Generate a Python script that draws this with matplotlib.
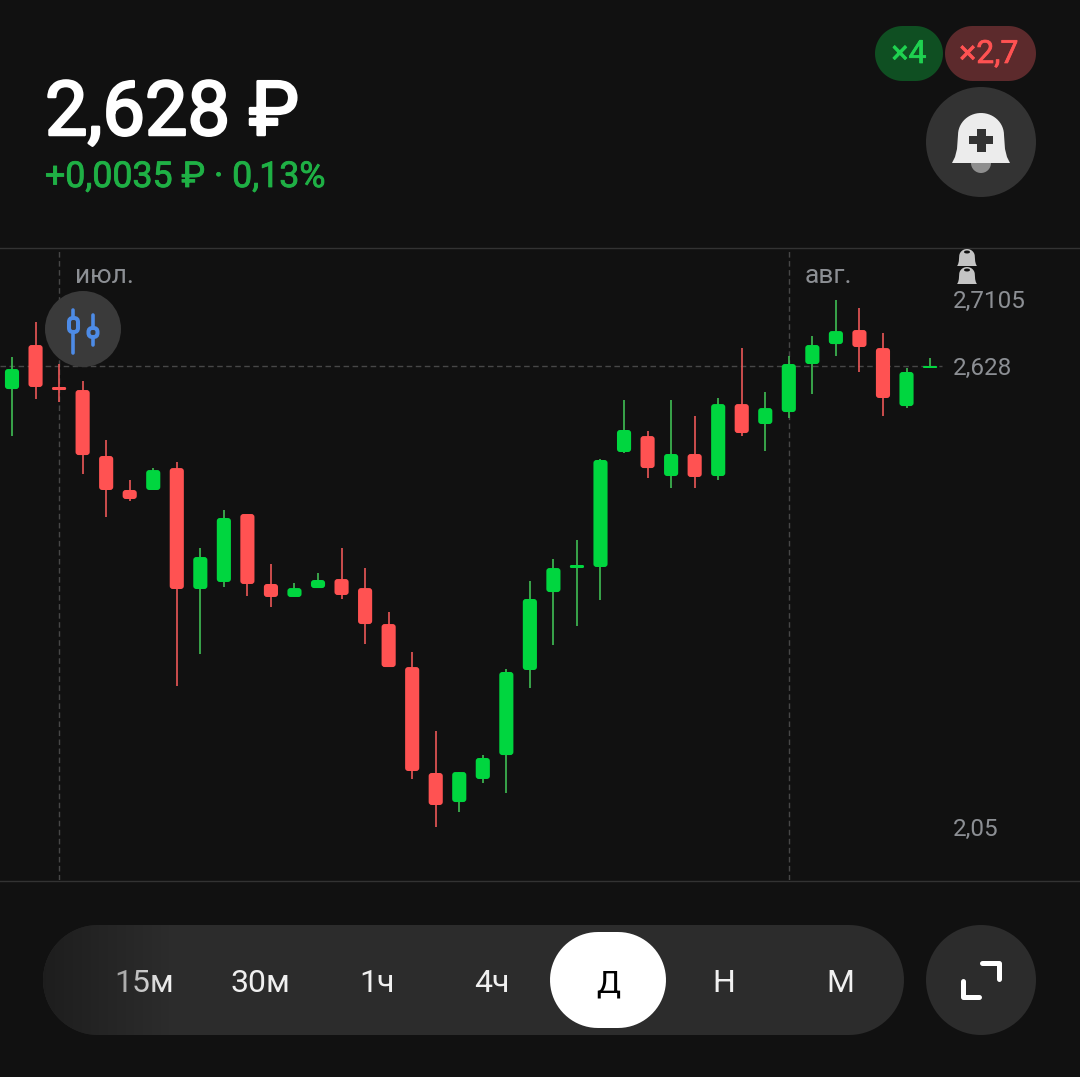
import numpy as np
import matplotlib
matplotlib.use("Agg")
import matplotlib.pyplot as plt
import matplotlib.patheffects as pe
from matplotlib.patches import FancyBboxPatch, Circle, Polygon, Rectangle, Ellipse

plt.rcParams["font.family"] = ["Roboto", "DejaVu Sans"]

# daily candles
opens = [2.5989, 2.6541, 2.6015, 2.5977, 2.5150, 2.4724, 2.4724, 2.4999, 2.3483, 2.3571, 2.4423, 2.3546, 2.3383, 2.3495, 2.3608, 2.3495,
         2.3044, 2.2505, 2.1177, 2.0813, 2.1102, 2.1402, 2.2468, 2.3445, 2.3746, 2.3759, 2.5200, 2.5400, 2.4899, 2.5175, 2.4899, 2.5801,
         2.5551, 2.5701, 2.6303, 2.6553, 2.6729, 2.6503, 2.5776, 2.6253]
closes = [2.6240, 2.6015, 2.5977, 2.5162, 2.4724, 2.4611, 2.4974, 2.3483, 2.3884, 2.4373, 2.3546, 2.3383, 2.3495, 2.3596, 2.3408, 2.3044,
          2.2505, 2.1202, 2.0776, 2.1189, 2.1365, 2.2443, 2.3358, 2.3746, 2.3784, 2.5100, 2.5476, 2.4999, 2.5175, 2.4887, 2.5801, 2.5438,
          2.5751, 2.6303, 2.6541, 2.6716, 2.6516, 2.5877, 2.6203, 2.6278]
highs = [2.6391, 2.6829, 2.6303, 2.6090, 2.5350, 2.4849, 2.4999, 2.5075, 2.3997, 2.4473, 2.4423, 2.3796, 2.3558, 2.3683, 2.3997, 2.3746,
         2.3195, 2.2693, 2.1703, 2.1189, 2.1402, 2.2480, 2.3583, 2.3859, 2.4097, 2.5112, 2.5852, 2.5463, 2.5852, 2.5651, 2.5877, 2.6503,
         2.5952, 2.6403, 2.6654, 2.7105, 2.7005, 2.6691, 2.6253, 2.6378]
lows = [2.5400, 2.5864, 2.5827, 2.4924, 2.4385, 2.4586, 2.4724, 2.2267, 2.2668, 2.3508, 2.3395, 2.3257, 2.3383, 2.3495, 2.3358, 2.2794,
        2.2505, 2.1102, 2.0500, 2.0688, 2.1051, 2.0926, 2.2242, 2.2781, 2.3019, 2.3345, 2.5187, 2.4874, 2.4749, 2.4749, 2.4849, 2.5400,
        2.5212, 2.5626, 2.5927, 2.6403, 2.6203, 2.5651, 2.5751, 2.6253]

last_price = 2.628
price_labels = ["2,7105", "2,628", "2,05"]
month_labels = ["июл.", "авг."]
month_index = [2, 33]
timeframes = ["15м", "30м", "1ч", "4ч", "Д", "Н", "М"]

BG = "#111111"
GREEN = "#00d63f"
RED = "#ff5252"
GREEN_WICK = "#3db651"
RED_WICK = "#e25555"
GRID = "#474747"
LABEL = "#8c8f94"
BAR = "#2c2c2c"
BTN = "#333333"
LINE = "#333333"

fig = plt.figure(figsize=(10.8, 10.77), dpi=100, facecolor=BG)

# price chart, the band between the two thin lines
ax = fig.add_axes([0, (1077 - 880) / 1077, 1, (880 - 248) / 1077])
ax.set_facecolor(BG)
ax.set_xlim(-0.51, 45.37)
ax.set_ylim(1.9836, 2.7757)
ax.axis("off")

ax.hlines(last_price, -0.51, 39.5, color=GRID, lw=1, linestyles=(0, (4, 2.5)), zorder=1)
for m in month_index:
    ax.axvline(m, color=GRID, lw=1, linestyle=(0, (4, 2.5)), zorder=1)

for i in range(len(opens)):
    up = closes[i] >= opens[i]
    ax.vlines(i, lows[i], highs[i], color=GREEN_WICK if up else RED_WICK, lw=1.25, zorder=2)
    bottom = min(opens[i], closes[i])
    height = abs(closes[i] - opens[i])
    # short bodies get a smaller corner radius
    r = min(0.127, height / 0.0296 / 2.2)
    ax.add_patch(FancyBboxPatch((i - 0.3, bottom), 0.6, height, boxstyle=f"round,pad=0,rounding_size={r}",
                                mutation_aspect=0.0296, fc=GREEN if up else RED, ec="none", zorder=3))

# everything else sits on a pixel grid
ui = fig.add_axes([0, 0, 1, 1])
ui.set_xlim(0, 1080)
ui.set_ylim(1077, 0)
ui.axis("off")
ui.patch.set_alpha(0)

ui.plot([0, 1080], [247.5, 247.5], color=LINE, lw=1)
ui.plot([0, 1080], [880.5, 880.5], color=LINE, lw=1)


def heavy(color, width):
    return [pe.withStroke(linewidth=width, foreground=color)]


ui.text(45, 135, "2,628 ₽", color="white", fontsize=54.5, va="baseline", path_effects=heavy("white", 1.8))
ui.text(45, 187, "+0,0035 ₽ · 0,13%", color="#1fb045", fontsize=25.7, va="baseline", path_effects=heavy("#1fb045", 0.6))


def pill(x0, x1, y0, y1, color, zorder=2):
    r = (y1 - y0) / 2
    t = np.linspace(-np.pi / 2, np.pi / 2, 40)
    xs = np.r_[x1 - r + r * np.cos(t), x0 + r - r * np.cos(t[::-1])]
    ys = np.r_[(y0 + y1) / 2 + r * np.sin(t), (y0 + y1) / 2 + r * np.sin(t[::-1])]
    p = Polygon(np.c_[xs, ys], fc=color, ec="none", zorder=zorder)
    ui.add_patch(p)
    return p


pill(875, 943, 26, 81, "#0f4f22")
pill(945, 1036, 26, 81, "#5c2a2c")
ui.text(909, 63, "×4", color="#1fd150", fontsize=23, ha="center", va="baseline", path_effects=heavy("#1fd150", 0.5))
ui.text(989, 63, "×2,7", color=RED, fontsize=23, ha="center", va="baseline", path_effects=heavy(RED, 0.5))


def bell(cx, top, s, color, zorder=3):
    # bell outline, s=1 is the big one on the button
    t = np.linspace(np.pi, 0, 30)
    dome_x = cx + s * 23 * np.cos(t)
    dome_y = top + s * 22 - s * 22 * np.sin(t)
    left_x = [cx - s * 29, cx - s * 26, cx - s * 24]
    left_y = [top + s * 50, top + s * 44, top + s * 36]
    right_x = [cx + s * 24, cx + s * 26, cx + s * 29]
    right_y = [top + s * 36, top + s * 44, top + s * 50]
    pts = np.c_[np.r_[left_x, dome_x, right_x], np.r_[left_y, dome_y, right_y]]
    ui.add_patch(Polygon(pts, fc=color, ec="none", zorder=zorder))


# bell button
ui.add_patch(Circle((981, 142), 55, fc=BTN, ec="none"))
ui.add_patch(Circle((981, 163), 10, fc="#8e8e8e", ec="none", zorder=2))
bell(981, 113, 1, "#ececec")
ui.add_patch(Rectangle((977, 129), 9, 23, fc=BTN, ec="none", zorder=4))
ui.add_patch(Rectangle((969, 136), 24, 8, fc=BTN, ec="none", zorder=4))

# candle icon button
BLUE = "#4d8be6"
ICON = "#3a3a3a"
ui.add_patch(Circle((83, 329), 38, fc=ICON, ec="none"))
ui.plot([73, 73], [310, 353], color=BLUE, lw=2.6, solid_capstyle="round", zorder=3)
ui.add_patch(FancyBboxPatch((69, 318), 9, 14, boxstyle="round,pad=0,rounding_size=4", fc=ICON, ec=BLUE, lw=2.9, zorder=4))
ui.plot([93, 93], [315, 345], color=BLUE, lw=2.6, solid_capstyle="round", zorder=3)
ui.add_patch(FancyBboxPatch((88.5, 328), 9, 9, boxstyle="round,pad=0,rounding_size=4", fc=ICON, ec=BLUE, lw=2.9, zorder=4))

# month and price labels
for lab, px in zip(month_labels, [75, 805]):
    ui.text(px, 283, lab, color=LABEL, fontsize=19, va="baseline")
for lab, py in zip(price_labels, [308, 375, 836]):
    ui.text(953, py, lab, color=LABEL, fontsize=17.5, va="baseline")

# tiny alert bells above the price scale
for top in [249, 267]:
    bell(967, top, 0.34, "#c4c4c4", zorder=2)
    ui.add_patch(Ellipse((967, top + 3), 6, 3, fc=BG, ec="none", zorder=3))

# timeframe bar
pill(43, 904, 925, 1035, BAR)
pill(550, 666, 932, 1028, "white", zorder=3)
for lab, px in zip(timeframes, [144, 260, 377, 492, 608, 724, 840]):
    ui.text(px, 992, lab, color="black" if lab == "Д" else "#f0f0f0", fontsize=23, ha="center", va="baseline", zorder=4)

# left end of the bar fades out
fade = np.zeros((1, 120, 4))
fade[0, :, :3] = 0.11
fade[0, :, 3] = np.linspace(0.9, 0, 120)
im = ui.imshow(fade, extent=(43, 170, 1035, 925), aspect="auto", zorder=5)
clip = pill(43, 904, 925, 1035, "none", zorder=0)
im.set_clip_path(clip)
ui.set_xlim(0, 1080)
ui.set_ylim(1077, 0)

# expand button
ui.add_patch(Circle((981, 980), 55, fc=BAR, ec="none"))
ui.plot([982, 999, 999], [963, 963, 979], color="white", lw=3.6, solid_capstyle="round", solid_joinstyle="round", zorder=3)
ui.plot([963, 963, 979], [981, 997, 997], color="white", lw=3.6, solid_capstyle="round", solid_joinstyle="round", zorder=3)

fig.savefig("out.png", dpi=100, facecolor=BG)
